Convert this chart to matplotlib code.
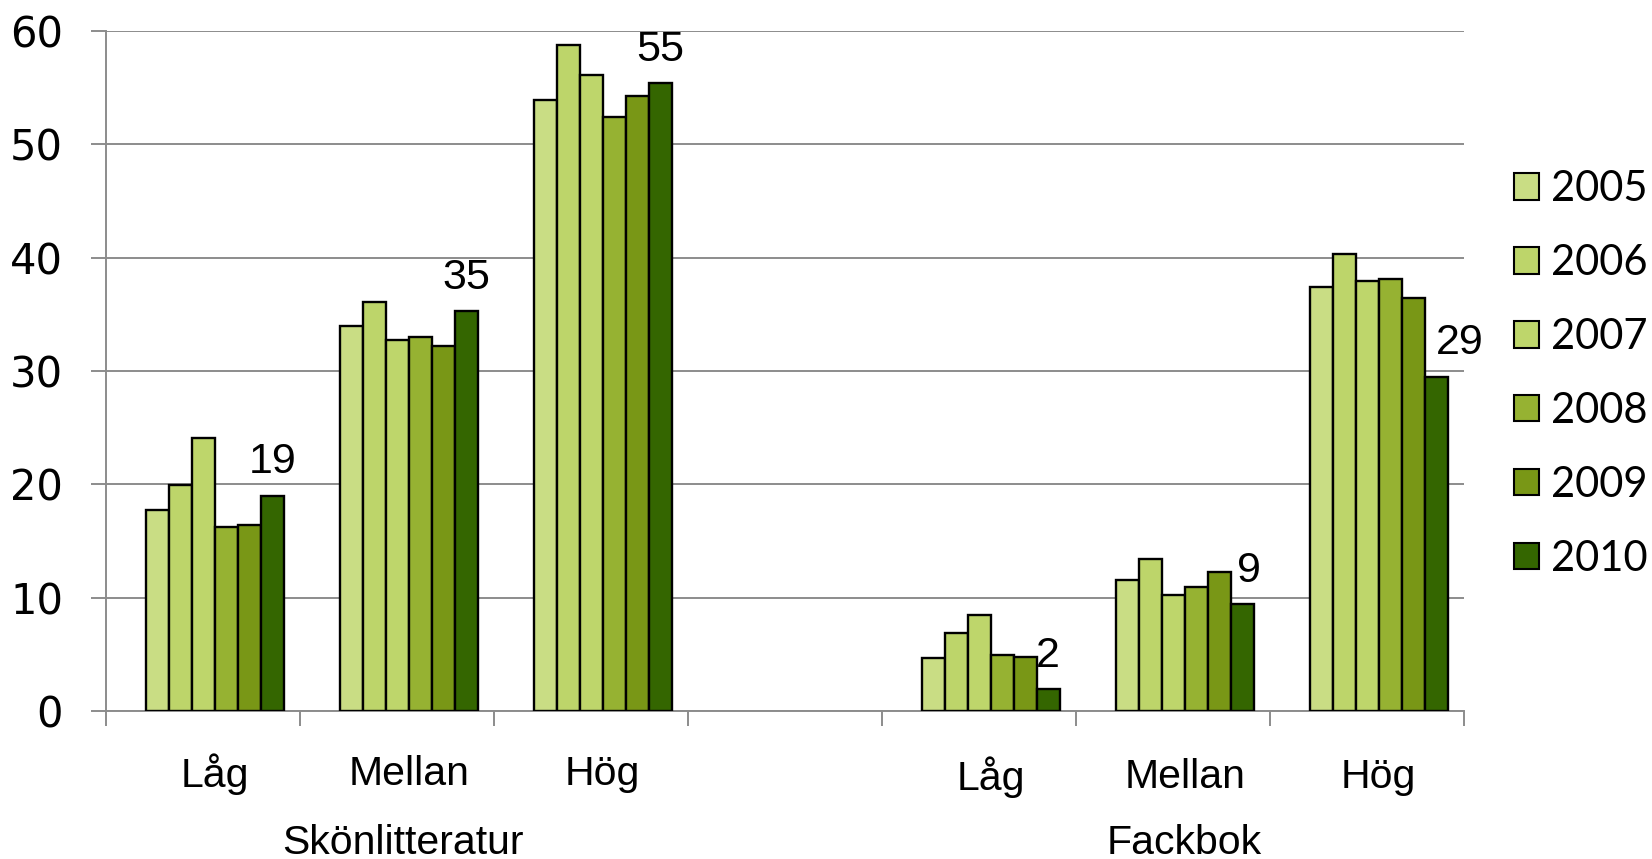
import matplotlib
matplotlib.use("Agg")
import matplotlib.pyplot as plt
from matplotlib.patches import Patch
from matplotlib.transforms import blended_transform_factory
import numpy as np

# ---- data ----
groups = ["Skönlitteratur", "Fackbok"]
levels = ["Låg", "Mellan", "Hög"]
years = ["2005", "2006", "2007", "2008", "2009", "2010"]
# values per year, order: Skön Låg, Mellan, Hög, Fack Låg, Mellan, Hög
v2005 = [17.7, 34.0, 53.9, 4.7, 11.6, 37.4]
v2006 = [19.9, 36.1, 58.8, 6.9, 13.4, 40.3]
v2007 = [24.1, 32.7, 56.1, 8.5, 10.2, 37.9]
v2008 = [16.2, 33.0, 52.4, 4.9, 10.9, 38.1]
v2009 = [16.45, 32.2, 54.3, 4.8, 12.3, 36.4]
v2010 = [19.0, 35.3, 55.4, 1.9, 9.4, 29.5]
labels_2010 = ["19", "35", "55", "2", "9", "29"]
series = [v2005, v2006, v2007, v2008, v2009, v2010]

colors = ["#C9DD84", "#BDD56A", "#BED66B", "#96B232", "#799716", "#346600"]
label_dx = [0, 0, 0, 0, 5, 17]  # points

fig = plt.figure(figsize=(16.52, 8.59), dpi=100)
ax = fig.add_axes([106/1652, (859-711)/859, 1358/1652, 680/859])

slots = [0, 1, 2, 4, 5, 6]
w = 0.1186
off = 0.06
grid_c = "#8C8C8C"

for j, vals in enumerate(series):
    xs = [s + off + (j - 2.5) * w for s in slots]
    ax.bar(xs, vals, width=w, color=colors[j], edgecolor="black",
           linewidth=1.7, zorder=3)

# data labels on 2010
for k, s in enumerate(slots):
    x = s + off + 2.5 * w
    ax.annotate(labels_2010[k], (x, v2010[k]), xytext=(label_dx[k], 24),
                textcoords="offset points", ha="center", va="center",
                fontsize=31, family="Liberation Sans", zorder=5)

ax.set_xlim(-0.5, 6.5)
ax.set_ylim(0, 60)
ax.set_yticks(range(0, 61, 10))
ax.yaxis.grid(True, color=grid_c, linewidth=1.4, zorder=0)
ax.set_axisbelow(True)
for sp in ["top", "right"]:
    ax.spines[sp].set_visible(False)
for sp in ["left", "bottom"]:
    ax.spines[sp].set_color(grid_c)
    ax.spines[sp].set_linewidth(1.4)

ax.set_xticks(np.arange(-0.5, 6.6, 1.0))
ax.set_xticklabels([])
ax.tick_params(axis="x", direction="out", length=11, width=1.4, color=grid_c)
ax.tick_params(axis="y", direction="out", length=11, width=1.4, color=grid_c,
               pad=20, labelsize=30)
for t in ax.get_yticklabels():
    t.set_family("DejaVu Sans")

trans = blended_transform_factory(ax.transData, ax.transAxes)
for k, s in enumerate(slots):
    dy = -0.093 if s < 3 else -0.097
    ax.text(s + off, dy, levels[k % 3], transform=trans, ha="center",
            va="center", fontsize=29.5, family="Liberation Sans")
ax.text(1.03, -0.194, groups[0], transform=trans, ha="center", va="center",
        fontsize=29.5, family="Liberation Sans")
ax.text(5.06, -0.194, groups[1], transform=trans, ha="center", va="center",
        fontsize=29.5, family="Liberation Sans")

handles = [Patch(facecolor=colors[j], edgecolor="black", linewidth=1.5)
           for j in range(6)]
leg = fig.legend(handles, years, loc="center left",
                 bbox_to_anchor=(1497/1652, 1 - 374/859), frameon=False,
                 prop={"family": "Lato", "size": 30},
                 handlelength=0.6, handleheight=0.6, handletextpad=0.3,
                 labelspacing=0.86, borderaxespad=0)

fig.savefig("out.png", dpi=100)
